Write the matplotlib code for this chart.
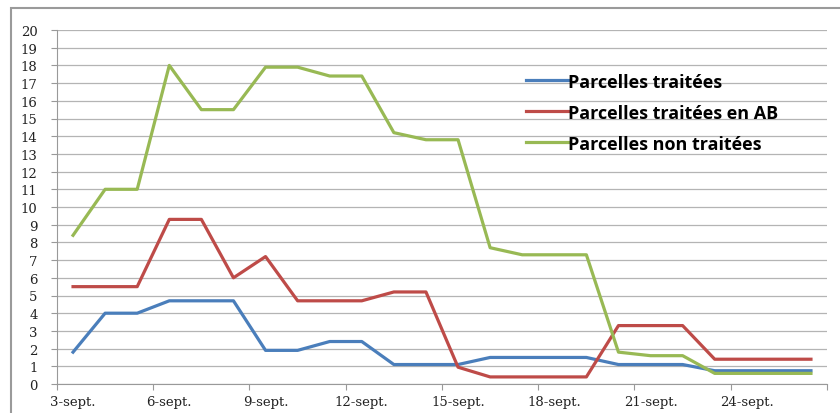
import matplotlib
matplotlib.use('Agg')
import matplotlib.pyplot as plt
from matplotlib.patches import Rectangle

jours = list(range(3, 27))
etiquettes = ['3-sept.', '6-sept.', '9-sept.', '12-sept.', '15-sept.', '18-sept.', '21-sept.', '24-sept.']

traitees = [1.8, 4.0, 4.0, 4.7, 4.7, 4.7, 1.9, 1.9, 2.4, 2.4, 1.1, 1.1,
            1.1, 1.5, 1.5, 1.5, 1.5, 1.1, 1.1, 1.1, 0.75, 0.75, 0.75, 0.75]
traitees_ab = [5.5, 5.5, 5.5, 9.3, 9.3, 6.0, 7.2, 4.7, 4.7, 4.7, 5.2, 5.2,
               0.95, 0.4, 0.4, 0.4, 0.4, 3.3, 3.3, 3.3, 1.4, 1.4, 1.4, 1.4]
non_traitees = [8.4, 11.0, 11.0, 18.0, 15.5, 15.5, 17.9, 17.9, 17.4, 17.4, 14.2, 13.8,
                13.8, 7.7, 7.3, 7.3, 7.3, 1.8, 1.6, 1.6, 0.6, 0.6, 0.6, 0.6]

x = list(range(len(jours)))

fig = plt.figure(figsize=(8.4, 4.14), dpi=100)
# cadre du graphique
fig.patches.append(Rectangle((11 / 840, -0.01), 1.0, 1 - 9 / 414 + 0.01, transform=fig.transFigure,
                             fill=False, edgecolor='#9a9a9a', linewidth=1.5))
ax = fig.add_axes([57 / 840, 29 / 414, 770 / 840, 354 / 414])

ax.plot(x, traitees, color='#4a7ebb', lw=2.3, label='Parcelles traitées')
ax.plot(x, traitees_ab, color='#be4b48', lw=2.3, label='Parcelles traitées en AB')
ax.plot(x, non_traitees, color='#98b954', lw=2.3, label='Parcelles non traitées')

ax.set_xlim(-0.5, len(jours) - 0.5)
ax.set_ylim(0, 20)
ax.set_yticks(range(0, 21))
ax.set_xticks([i - 0.5 for i in range(0, len(jours) + 1, 3)])
ax.set_xticklabels([])
ax.set_xticks(range(0, len(jours), 3), minor=True)
ax.set_xticklabels(etiquettes, minor=True, fontsize=9.5, family='DejaVu Serif', color='#222222')
ax.tick_params(axis='x', which='minor', length=0, pad=8)
ax.tick_params(axis='x', which='major', length=4, color='#999999')
ax.tick_params(axis='y', length=4, color='#999999', labelsize=9.5, labelcolor='#222222', pad=10)
for t in ax.get_yticklabels():
    t.set_family('DejaVu Serif')

ax.grid(axis='y', color='#b4b4b4', lw=0.9)
ax.set_axisbelow(True)
for s in ['top', 'right']:
    ax.spines[s].set_visible(False)
ax.spines['left'].set_color('#999999')
ax.spines['bottom'].set_color('#999999')

leg = ax.legend(loc='upper left', bbox_to_anchor=(0.588, 0.925), frameon=False,
                prop={'family': 'Open Sans', 'weight': 'bold', 'size': 13},
                handlelength=2.3, handletextpad=0.05, labelspacing=0.72)

fig.savefig('out.png', dpi=100)
